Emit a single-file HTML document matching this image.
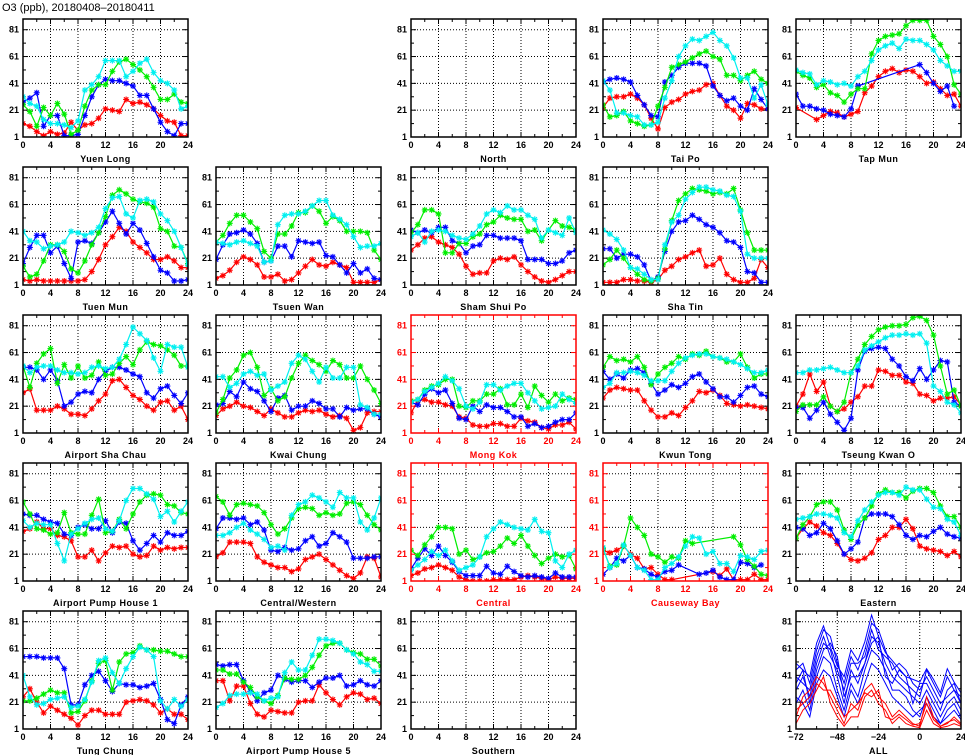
<!DOCTYPE html>
<html><head><meta charset="utf-8"><style>
html,body{margin:0;padding:0;background:#fff;}
#wrap{position:relative;width:965px;height:755px;overflow:hidden;}
svg text{font-family:"Liberation Sans",sans-serif;}
</style></head><body>
<div id="wrap">
<svg id="chart" width="965" height="755" viewBox="0 0 965 755">
<text x="2" y="11" font-size="11" fill="#000">O3 (ppb), 20180408–20180411</text>
</svg>
</div>
<script>
const HOURS=[0,1,2,3,4,5,6,7,8,9,10,11,12,13,14,15,16,17,18,19,20,21,22,23,24];
const Y_TICKS=[1,21,41,61,81];
const X_TICKS=[0,4,8,12,16,20,24];
const ALL_TIMES=[-72,-68,-64,-60,-56,-52,-48,-44,-40,-36,-32,-28,-24,-20,-16,-12,-8,-4,0,4,8,12,16,20,24];
const ALL_TICKS=[-72,-48,-24,0,24];

const ylRed=[11,9,5,2,5,3,4,12,6,10,11,15,22,21,20,29,26,27,25,22,17,13,12,2,2];
const ylBlue=[27,30,34,9,17,17,2,2,3,17,31,40,44,43,43,41,39,32,32,22,12,5,2,11,11];
const ylGreen=[25,20,9,23,17,26,18,3,6,24,36,40,40,50,57,59,55,51,46,38,29,29,33,27,26];
const ylCyan=[31,26,24,14,11,11,10,8,13,36,40,46,58,58,58,46,50,56,59,49,43,41,36,22,24];

const tpRed=[23,30,31,31,33,30,25,15,7,23,27,29,33,35,36,40,41,32,24,21,15,26,25,22,22];
const tpBlue=[42,44,45,44,42,32,25,17,16,42,47,53,56,56,56,54,39,32,28,30,24,21,37,29,22];
const tpGreen=[25,16,17,20,13,11,9,10,24,38,53,55,57,60,63,65,61,59,47,47,43,47,50,44,41];
const tpCyan=[43,36,19,19,17,16,10,10,12,30,43,61,69,74,73,76,79,73,69,60,45,45,30,40,25];

const tmRed=[23,null,null,14,17,20,19,16,18,20,34,39,46,50,52,49,51,50,46,41,42,37,32,33,24];
const tmBlue=[33,24,24,22,21,18,17,16,22,39,null,null,null,null,null,null,null,null,55,49,41,35,39,24,null];
const tmGreen=[50,47,45,38,40,34,32,27,33,37,37,63,73,76,77,78,84,88,88,88,76,70,61,40,33];
const tmCyan=[51,49,48,40,43,42,40,41,39,46,50,58,66,69,71,67,74,73,73,70,66,58,54,50,50];

const tuRed=[5,4,5,4,4,4,4,4,4,5,11,20,31,37,44,41,33,29,25,20,20,22,19,14,14];
const tuBlue=[17,29,38,38,25,30,17,6,33,34,32,40,48,56,47,39,47,42,32,22,12,10,4,4,5];
const tuGreen=[15,7,9,19,31,31,26,13,10,19,31,40,52,68,72,69,65,63,62,59,43,41,30,29,17];
const tuCyan=[41,34,33,28,30,31,33,41,40,38,40,44,58,66,67,54,51,64,65,63,54,49,41,29,16];

const twRed=[6,8,12,18,22,20,16,7,7,9,4,5,10,15,20,16,15,18,16,14,3,3,3,3,5];
const twBlue=[20,31,39,40,42,39,32,18,19,30,30,22,34,33,32,33,23,22,16,10,17,10,13,6,5];
const twGreen=[33,38,47,53,53,48,43,26,21,39,39,45,55,55,60,56,47,52,49,41,41,41,40,27,20];
const twCyan=[33,32,31,33,34,32,30,18,19,46,53,54,54,56,60,64,64,53,50,46,37,29,30,30,32];

const sspRed=[27,31,36,37,33,31,29,24,15,9,10,10,19,21,20,22,16,11,7,4,3,5,8,11,11];
const sspBlue=[42,40,42,40,44,44,34,32,25,30,31,38,38,36,36,36,34,20,20,20,17,17,19,25,27];
const sspGreen=[40,46,57,57,54,25,25,32,32,37,39,46,48,53,51,50,50,41,42,34,42,49,45,44,42];
const sspCyan=[37,40,33,41,42,41,38,36,35,39,45,54,57,55,60,57,57,53,50,36,42,40,38,51,40];

const stRed=[3,3,3,5,5,4,4,3,5,12,15,20,22,25,27,15,16,21,9,5,3,3,6,20,14];
const stBlue=[28,28,21,24,24,22,16,4,7,26,41,48,49,53,50,46,44,40,34,33,29,11,10,3,3];
const stGreen=[16,20,27,21,14,9,5,4,6,28,49,64,69,73,72,71,69,70,69,73,57,40,27,27,27];
const stCyan=[42,39,35,27,14,13,9,5,5,31,48,53,65,70,74,74,72,71,68,67,56,24,21,21,21];

const ascRed=[31,34,18,18,18,21,19,15,15,14,19,25,30,40,41,35,29,26,21,18,24,25,18,21,11];
const ascBlue=[50,50,48,41,48,40,21,24,30,32,31,41,47,50,50,48,45,43,31,27,34,36,29,23,31];
const ascGreen=[51,35,53,60,64,38,52,42,51,42,44,54,44,45,53,58,52,63,69,67,66,63,59,51,51];
const ascCyan=[51,46,50,51,51,48,46,46,45,46,50,51,49,50,56,67,80,75,70,57,47,67,65,65,50];

const kcRed=[14,19,21,24,21,20,17,14,19,16,13,13,16,18,17,18,15,13,14,12,3,5,16,17,17];
const kcBlue=[22,23,32,28,39,34,32,25,17,27,29,18,21,21,25,23,19,19,13,20,18,19,19,15,13];
const kcGreen=[16,26,42,48,59,61,50,29,34,25,28,42,53,59,55,52,47,55,52,42,42,51,41,33,23];
const kcCyan=[43,43,35,38,45,47,44,45,33,36,39,53,59,56,47,39,50,42,42,50,50,22,20,15,15];

const mkRed=[16,25,26,24,24,22,21,13,12,7,6,6,8,8,6,6,12,10,9,5,4,7,7,9,4];
const mkBlue=[24,22,30,34,31,33,23,12,11,21,17,22,20,20,17,13,13,6,8,5,6,9,11,11,16];
const mkGreen=[25,26,33,36,37,41,41,21,20,25,25,30,30,34,22,22,30,20,36,29,24,30,25,27,26];
const mkCyan=[24,26,32,35,38,43,40,34,21,19,24,37,37,33,36,38,38,31,25,19,20,21,30,26,23];

const ktRed=[27,33,35,34,33,33,25,18,13,13,16,14,20,25,32,31,33,29,23,22,21,22,21,20,19];
const ktBlue=[47,41,45,42,48,49,46,38,30,33,37,35,38,43,45,39,34,28,28,24,29,35,36,30,28];
const ktGreen=[50,58,55,56,54,58,50,37,45,50,53,58,56,60,59,62,58,57,54,54,60,50,42,45,45];
const ktCyan=[35,38,46,46,47,46,44,40,40,40,47,53,57,59,60,60,58,57,56,54,52,49,46,46,48];

const tkoRed=[21,30,45,32,39,21,17,19,24,28,36,36,48,47,44,44,39,38,30,29,25,27,27,28,22];
const tkoBlue=[20,20,12,18,24,15,9,3,12,48,62,64,65,64,56,51,43,40,49,41,48,55,54,24,21];
const tkoGreen=[17,22,22,22,28,21,17,24,46,56,67,73,78,80,81,81,82,87,88,85,74,51,30,33,21];
const tkoCyan=[46,46,48,48,49,50,48,46,46,51,63,66,69,72,74,74,75,74,75,68,36,32,24,22,16];

const ap1Red=[38,40,45,40,40,35,34,31,19,19,24,16,22,27,26,27,21,19,20,27,24,26,25,26,26];
const ap1Blue=[51,50,50,47,45,44,36,35,41,43,40,40,46,37,45,44,31,24,29,35,30,37,35,35,38];
const ap1Green=[60,51,40,39,36,37,52,37,36,36,50,62,37,38,47,40,51,60,65,66,65,58,57,52,51];
const ap1Cyan=[46,41,44,43,43,29,16,36,40,44,47,48,40,38,46,61,70,70,66,62,49,53,45,53,60];

const cwRed=[19,22,30,30,30,29,19,15,13,11,11,8,10,17,19,21,17,13,9,5,3,7,19,18,4];
const cwBlue=[40,48,48,47,48,43,45,39,24,23,26,24,25,31,34,27,29,37,34,30,18,18,18,19,19];
const cwGreen=[64,60,50,58,59,58,57,52,43,36,40,48,55,56,55,50,52,50,51,59,60,58,50,43,39];
const cwCyan=[35,35,37,41,44,39,36,32,26,27,24,50,58,60,65,63,60,56,67,63,63,45,39,48,63];

const ceRed=[5,7,10,11,13,11,9,4,2,1,1,1,2,2,2,2,4,5,4,3,2,4,3,3,3];
const ceBlue=[10,18,25,20,27,20,15,8,5,5,5,12,7,6,12,8,5,4,5,4,3,7,4,4,4];
const ceGreen=[24,20,28,34,41,41,40,21,24,17,19,22,23,27,33,29,35,27,20,14,18,21,19,20,10];
const ceCyan=[9,13,17,23,20,24,16,9,11,13,19,34,40,45,43,41,40,39,47,38,37,16,11,21,24];

const cbRed=[24,22,24,27,21,18,10,11,6,2,2,null,null,null,null,null,8,5,10,2,2,2,6,2,2];
const cbBlue=[6,11,18,16,20,11,10,6,4,8,9,13,null,null,6,7,9,4,2,2,15,14,11,13,null];
const cbGreen=[25,12,13,27,48,41,35,21,19,15,19,18,31,29,null,null,null,null,null,34,28,17,12,6,5];
const cbCyan=[26,11,14,28,20,11,9,2,2,11,14,19,27,34,33,21,23,14,14,8,20,19,17,23,24];

const eaRed=[33,40,45,42,37,35,29,21,17,16,18,22,32,35,41,41,47,40,27,25,24,23,20,23,19];
const eaBlue=[41,40,35,37,44,40,31,21,25,30,48,51,51,51,49,43,35,32,35,34,38,41,36,34,33];
const eaGreen=[33,43,49,58,60,60,54,39,32,43,48,57,66,69,67,67,63,68,70,70,67,57,49,49,41];
const eaCyan=[47,48,49,51,51,50,48,37,34,46,54,60,65,67,67,65,71,69,69,62,56,55,47,45,35];

const tcRed=[25,31,21,13,18,15,12,9,4,11,15,15,12,12,12,21,22,23,22,19,13,16,12,12,8];
const tcBlue=[55,55,55,54,54,54,46,19,19,34,41,44,37,29,35,34,34,32,33,35,23,8,5,19,25];
const tcGreen=[22,22,24,27,30,28,28,13,14,22,37,50,52,30,51,57,58,63,60,60,59,59,57,55,55];
const tcCyan=[41,25,19,20,23,24,25,17,18,23,36,52,54,43,35,46,55,62,60,55,22,16,23,18,23];

const ap5Red=[37,37,22,33,33,20,12,10,15,14,13,13,21,22,22,34,28,23,19,25,28,27,23,24,20];
const ap5Blue=[49,48,49,49,37,29,22,28,30,41,38,36,37,37,32,36,39,39,41,33,34,37,34,33,37];
const ap5Green=[45,45,42,42,36,32,25,22,20,26,39,38,38,41,47,56,63,65,65,60,58,57,53,53,48];
const ap5Cyan=[17,20,26,27,27,28,27,22,24,25,43,51,45,45,56,68,68,67,65,60,57,51,49,44,44];

const allBlue1=[45,50,35,60,75,70,50,35,55,45,60,80,75,60,45,50,45,35,30,40,30,20,25,30,25];
const allBlue2=[30,40,25,50,65,60,40,20,45,35,50,70,65,50,40,35,30,25,20,30,20,10,20,25,15];
const allBlue3=[20,30,15,40,55,50,30,15,35,25,45,60,55,45,30,30,25,15,10,25,15,5,15,20,10];
const allBlue4=[40,35,30,55,70,55,45,30,50,50,55,75,60,55,50,40,35,30,25,45,35,25,40,30,20];
const allBlue5=[35,45,20,45,60,65,55,25,40,40,50,65,70,40,35,45,40,20,35,35,25,15,30,35,20];
const allBlue6=[25,20,10,35,45,40,25,10,30,20,35,50,45,35,25,20,15,10,15,20,10,5,10,15,8];
const allBlue7=[50,45,40,65,78,62,48,40,60,52,66,86,70,58,52,46,40,38,36,46,38,28,46,36,28];
const allRed1=[10,25,30,40,35,25,15,5,20,15,30,35,25,20,10,15,10,5,3,25,10,3,5,10,5];
const allRed2=[5,15,20,30,40,20,10,3,10,10,25,30,20,15,5,10,5,3,2,15,5,2,3,5,3];
const allRed3=[15,20,25,35,30,30,20,10,15,20,28,25,30,10,8,12,8,4,5,20,8,3,6,8,4];

const COLX=[23,216,411,603,796];
const ROWB=[137,285,433,581,729];
const PW=165, PH=118, YMIN=1, YMAX=89;
const RED='#ff0000', BLUE='#0000ff', GREEN='#00ee00', CYAN='#00f0f0';
const NS='http://www.w3.org/2000/svg';
const svg=document.getElementById('chart');

function mk(tag,attrs,parent){
  const e=document.createElementNS(NS,tag);
  for(const k in attrs) e.setAttribute(k,attrs[k]);
  (parent||svg).appendChild(e);
  return e;
}

function drawPanel(col,row,title,isRed,series,xDomain,xTicks,markers){
  const L=COLX[col], B=ROWB[row], T=B-PH, R=L+PW;
  const ac=isRed?RED:'#000';
  const g=mk('g',{});
  
  
  const xs=h=>L+(h-xDomain[0])/(xDomain[1]-xDomain[0])*PW;
  const ys=v=>B-(v-YMIN)/(YMAX-YMIN)*PH;
  // grid
  Y_TICKS.forEach(v=>{
    if(v>YMIN){const gl=mk('line',{x1:L,x2:R,y1:ys(v),y2:ys(v),stroke:'#000','stroke-width':1,'stroke-dasharray':'1,2'},g);
    
    }
    mk('line',{x1:L,x2:L+5,y1:ys(v),y2:ys(v),stroke:ac},g);
    mk('line',{x1:R-5,x2:R,y1:ys(v),y2:ys(v),stroke:ac},g);
    const t=mk('text',{x:L-4,y:ys(v)+3,'font-size':9,'font-weight':'bold','text-anchor':'end',fill:ac},g);
    t.textContent=v;
    
    
  });
  [11,31,51,71].forEach(v=>{
    mk('line',{x1:L,x2:L+3,y1:ys(v),y2:ys(v),stroke:ac},g);
    mk('line',{x1:R-3,x2:R,y1:ys(v),y2:ys(v),stroke:ac},g);
  });
  xTicks.forEach((h,i)=>{
    const x=xs(h);
    if(i>0&&i<xTicks.length-1){const gl=mk('line',{x1:x,x2:x,y1:T,y2:B,stroke:'#000','stroke-dasharray':'1,2'},g);
    
    }
    mk('line',{x1:x,x2:x,y1:B-5,y2:B,stroke:ac},g);
    mk('line',{x1:x,x2:x,y1:T,y2:T+5,stroke:ac},g);
    const t=mk('text',{x:x,y:B+11,'font-size':9,'font-weight':'bold','text-anchor':'middle',fill:ac},g);
    t.textContent=(h<0?'\u2212'+(-h):h);
    
    
  });
  for(let i=0;i<xTicks.length-1;i++){
    const step=(xTicks[i+1]-xTicks[i])/2, x=xs(xTicks[i]+step);
    mk('line',{x1:x,x2:x,y1:B-3,y2:B,stroke:ac},g);
    mk('line',{x1:x,x2:x,y1:T,y2:T+3,stroke:ac},g);
  }
  const tt=mk('text',{x:(L+R)/2,y:B+25,'font-size':9,'font-weight':'bold','text-anchor':'middle',fill:ac,'letter-spacing':'0.5'},g);
  tt.textContent=title;
  
  
  // series
  const clip='clip'+col+'_'+row;
  const cp=mk('clipPath',{id:clip},g); mk('rect',{x:L,y:T,width:PW,height:PH},cp);
  const sg=mk('g',{'clip-path':'url(#'+clip+')'},g);
  series.forEach(s=>{
    const pts=[];
    s.vals.forEach((v,i)=>{ if(v!==null&&v!==undefined) pts.push([xs(s.times[i]),ys(v)]); });
    const pl=mk('polyline',{points:pts.map(p=>p[0].toFixed(1)+','+p[1].toFixed(1)).join(' '),fill:'none',stroke:s.color,'stroke-width':s.w||1.2},sg);
    
    
    if(markers){
      pts.forEach(p=>{
        const m=mk('path',{d:`M${p[0]-3},${p[1]}h6M${p[0]},${p[1]-3}v6M${p[0]-2.2},${p[1]-2.2}l4.4,4.4M${p[0]-2.2},${p[1]+2.2}l4.4,-4.4`,stroke:s.color,'stroke-width':1.1,fill:'none'},sg);
        
        
      });
    }
  });
  const fr=mk('rect',{x:L,y:T,width:PW,height:PH,fill:'none',stroke:ac,'stroke-width':1.5},g);
  
  
}

function hourSeries(r,b,gr,c){
  return [
    {name:'red-series',color:RED,vals:r,times:HOURS},
    {name:'blue-series',color:BLUE,vals:b,times:HOURS},
    {name:'green-series',color:GREEN,vals:gr,times:HOURS},
    {name:'cyan-series',color:CYAN,vals:c,times:HOURS}
  ];
}
const HD=[0,24];
drawPanel(0,0,'Yuen Long',false,hourSeries(ylRed,ylBlue,ylGreen,ylCyan),HD,X_TICKS,true);
drawPanel(2,0,'North',false,[],HD,X_TICKS,true);
drawPanel(3,0,'Tai Po',false,hourSeries(tpRed,tpBlue,tpGreen,tpCyan),HD,X_TICKS,true);
drawPanel(4,0,'Tap Mun',false,hourSeries(tmRed,tmBlue,tmGreen,tmCyan),HD,X_TICKS,true);
drawPanel(0,1,'Tuen Mun',false,hourSeries(tuRed,tuBlue,tuGreen,tuCyan),HD,X_TICKS,true);
drawPanel(1,1,'Tsuen Wan',false,hourSeries(twRed,twBlue,twGreen,twCyan),HD,X_TICKS,true);
drawPanel(2,1,'Sham Shui Po',false,hourSeries(sspRed,sspBlue,sspGreen,sspCyan),HD,X_TICKS,true);
drawPanel(3,1,'Sha Tin',false,hourSeries(stRed,stBlue,stGreen,stCyan),HD,X_TICKS,true);
drawPanel(0,2,'Airport Sha Chau',false,hourSeries(ascRed,ascBlue,ascGreen,ascCyan),HD,X_TICKS,true);
drawPanel(1,2,'Kwai Chung',false,hourSeries(kcRed,kcBlue,kcGreen,kcCyan),HD,X_TICKS,true);
drawPanel(2,2,'Mong Kok',true,hourSeries(mkRed,mkBlue,mkGreen,mkCyan),HD,X_TICKS,true);
drawPanel(3,2,'Kwun Tong',false,hourSeries(ktRed,ktBlue,ktGreen,ktCyan),HD,X_TICKS,true);
drawPanel(4,2,'Tseung Kwan O',false,hourSeries(tkoRed,tkoBlue,tkoGreen,tkoCyan),HD,X_TICKS,true);
drawPanel(0,3,'Airport Pump House 1',false,hourSeries(ap1Red,ap1Blue,ap1Green,ap1Cyan),HD,X_TICKS,true);
drawPanel(1,3,'Central/Western',false,hourSeries(cwRed,cwBlue,cwGreen,cwCyan),HD,X_TICKS,true);
drawPanel(2,3,'Central',true,hourSeries(ceRed,ceBlue,ceGreen,ceCyan),HD,X_TICKS,true);
drawPanel(3,3,'Causeway Bay',true,hourSeries(cbRed,cbBlue,cbGreen,cbCyan),HD,X_TICKS,true);
drawPanel(4,3,'Eastern',false,hourSeries(eaRed,eaBlue,eaGreen,eaCyan),HD,X_TICKS,true);
drawPanel(0,4,'Tung Chung',false,hourSeries(tcRed,tcBlue,tcGreen,tcCyan),HD,X_TICKS,true);
drawPanel(1,4,'Airport Pump House 5',false,hourSeries(ap5Red,ap5Blue,ap5Green,ap5Cyan),HD,X_TICKS,true);
drawPanel(2,4,'Southern',false,[],HD,X_TICKS,true);
const allSeries=[allBlue1,allBlue2,allBlue3,allBlue4,allBlue5,allBlue6,allBlue7].map(v=>({name:'all-blue-line',color:BLUE,vals:v,times:ALL_TIMES,w:1}))
  .concat([allRed1,allRed2,allRed3].map(v=>({name:'all-red-line',color:RED,vals:v,times:ALL_TIMES,w:1})));
drawPanel(4,4,'ALL',false,allSeries,[-72,24],ALL_TICKS,false);
</script>
</body></html>
